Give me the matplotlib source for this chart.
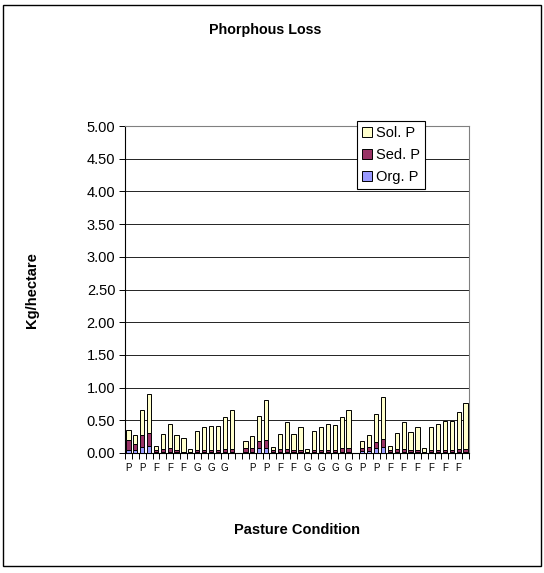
import numpy as np
import matplotlib
matplotlib.use("Agg")
import matplotlib.pyplot as plt
from matplotlib.patches import Rectangle

plt.rcParams['font.family'] = ['Liberation Sans', 'DejaVu Sans']

# 50 category slots: three groups of 16 sites, one empty slot between groups
org_p = [0.05, 0.04, 0.09, 0.11, 0.01, 0.02, 0.02, 0.01, 0.01, 0.01, 0.01, 0.01, 0.01, 0.01, 0.01, 0.01,
         0.0,
         0.02, 0.02, 0.08, 0.08, 0.01, 0.01, 0.01, 0.01, 0.01, 0.01, 0.01, 0.01, 0.01, 0.01, 0.01, 0.01,
         0.0,
         0.03, 0.03, 0.08, 0.09, 0.02, 0.02, 0.01, 0.01, 0.01, 0.01, 0.01, 0.01, 0.01, 0.01, 0.01, 0.02]
sed_p = [0.15, 0.10, 0.18, 0.19, 0.03, 0.04, 0.05, 0.03, 0.01, 0.01, 0.03, 0.03, 0.03, 0.03, 0.05, 0.05,
         0.0,
         0.06, 0.06, 0.10, 0.12, 0.03, 0.05, 0.05, 0.03, 0.04, 0.01, 0.03, 0.03, 0.03, 0.03, 0.06, 0.06,
         0.0,
         0.05, 0.06, 0.09, 0.12, 0.03, 0.04, 0.05, 0.03, 0.04, 0.01, 0.03, 0.03, 0.03, 0.03, 0.05, 0.04]
sol_p = [0.15, 0.13, 0.39, 0.60, 0.07, 0.23, 0.37, 0.23, 0.21, 0.04, 0.29, 0.35, 0.38, 0.38, 0.49, 0.60,
         0.0,
         0.11, 0.18, 0.38, 0.61, 0.05, 0.23, 0.41, 0.25, 0.34, 0.04, 0.29, 0.35, 0.40, 0.39, 0.48, 0.59,
         0.0,
         0.11, 0.18, 0.43, 0.64, 0.06, 0.25, 0.41, 0.28, 0.34, 0.05, 0.35, 0.40, 0.45, 0.45, 0.57, 0.71]

# labels shown on every second category (Excel skips the others)
tick_labels = ['P', 'P', 'F', 'F', 'F', 'G', 'G', 'G', '',
               'P', 'P', 'F', 'F', 'G', 'G', 'G', 'G',
               'P', 'P', 'F', 'F', 'F', 'F', 'F', 'F']

org_p = np.array(org_p)
sed_p = np.array(sed_p)
sol_p = np.array(sol_p)
x = np.arange(len(org_p))

fig = plt.figure(figsize=(5.44, 5.73), dpi=100)
ax = fig.add_axes([125 / 544, 1 - 453 / 573, 344 / 544, 327 / 573])

w = 0.62
kw = dict(width=w, edgecolor='black', linewidth=0.7, zorder=3)
b_org = ax.bar(x, org_p, color='#9999FF', label='Org. P', **kw)
b_sed = ax.bar(x, sed_p, bottom=org_p, color='#993366', label='Sed. P', **kw)
b_sol = ax.bar(x, sol_p, bottom=org_p + sed_p, color='#FFFFCC', label='Sol. P', **kw)

ax.set_xlim(-0.5, len(x) - 0.5)
ax.set_ylim(0, 5)
ax.set_yticks(np.arange(0, 5.01, 0.5))
ax.set_yticklabels(['%.2f' % v for v in np.arange(0, 5.01, 0.5)], fontsize=10.5)
ax.grid(axis='y', color='black', linewidth=0.6, zorder=1)

ax.set_xticks(np.arange(-0.5, len(x), 1.0))
ax.set_xticklabels([])
ax.set_xticks(np.arange(0, len(x), 2), minor=True)
ax.set_xticklabels(tick_labels, minor=True, fontsize=7)
ax.tick_params(axis='x', which='major', length=4, width=0.7, direction='out')
ax.tick_params(axis='x', which='minor', length=0, pad=7)
ax.tick_params(axis='y', length=4, width=0.7, pad=3)

for s in ['top', 'right']:
    ax.spines[s].set_color('#808080')
for s in ['left', 'bottom']:
    ax.spines[s].set_color('black')
for s in ax.spines.values():
    s.set_linewidth(0.8)

fig.text(0.488, 1 - 30 / 573, 'Phorphous Loss', ha='center', va='center',
         fontsize=10.3, fontweight='bold')
fig.text(32 / 544, 1 - 290 / 573, 'Kg/hectare', ha='center', va='center',
         rotation=90, fontsize=10.5, fontweight='bold')
fig.text(297 / 544, 1 - 530 / 573, 'Pasture Condition', ha='center', va='center',
         fontsize=10.5, fontweight='bold')

leg = fig.legend(handles=[b_sol, b_sed, b_org], loc='upper left',
                 bbox_to_anchor=(357 / 544, 1 - 121 / 573), fontsize=10.5,
                 frameon=True, fancybox=False, framealpha=1, edgecolor='black',
                 handlelength=0.65, handleheight=0.65, handletextpad=0.3,
                 labelspacing=0.55, borderpad=0.35, borderaxespad=0)
leg.get_frame().set_linewidth(0.8)

fig.patches.append(Rectangle((3 / 544, 7 / 573), 538 / 544, 561 / 573,
                             transform=fig.transFigure, fill=False,
                             edgecolor='black', linewidth=1.0))

fig.savefig('out.png', dpi=100)
